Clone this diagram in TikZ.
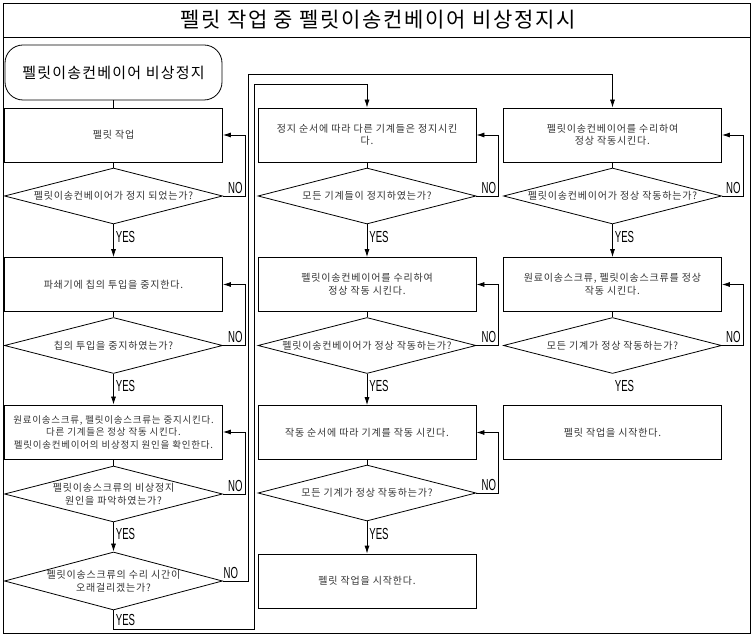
\documentclass[tikz,border=0pt]{standalone}
\usepackage{fontspec}
\usepackage{graphicx}
\setmainfont{Noto Sans CJK KR}[LetterSpace=8]
\newfontfamily\ynfont{Liberation Sans}
\usetikzlibrary{shapes.geometric,arrows.meta,positioning,calc}

\newcommand{\yn}[1]{\scalebox{0.6}[1]{#1}}

\tikzset{
  procbox/.style={draw, rectangle, minimum width=218pt, minimum height=54pt, inner sep=0pt,
    align=center, font=\fontsize{10}{12.5}\selectfont, text=black!80},
  decision/.style={draw, diamond, minimum width=218pt, minimum height=56pt, inner sep=0pt},
  qtext/.style={align=center, inner sep=0pt, font=\fontsize{10}{13}\selectfont, text=black!80},
  flow/.style={-{Latex[length=8pt,width=5pt]}},
  ynlbl/.style={inner sep=2pt, font=\ynfont\fontsize{16}{16}\selectfont},
}

\begin{document}
\begin{tikzpicture}[x=1pt, y=-1pt, line width=0.8pt]
  \useasboundingbox (0,0) rectangle (753,636);
  % Frame and title
  \draw (3,3) rectangle (750,633);
  \draw (3,37) -- (750,37);
  \node[font=\fontsize{21}{21}\selectfont] (title) at (378,20) {펠릿 작업 중 펠릿이송컨베이어 비상정지시};

  % Left column
  \node[draw, rounded corners=18pt, minimum width=217pt, minimum height=55pt,
    font=\fontsize{15}{15}\selectfont] (start) at (113.5,72.5) {펠릿이송컨베이어 비상정지};
  \node[procbox] (b1) at (113.5,135) {펠릿 작업};
  \node[decision] (d1) at (113.5,196) {};
  \node[qtext] (q1) at (d1) {펠릿이송컨베이어가 정지 되었는가?};
  \node[procbox] (b2) at (113.5,284.5) {파쇄기에 칩의 투입을 중지한다.};
  \node[decision] (d2) at (113.5,345.5) {};
  \node[qtext] (q2) at (d2) {칩의 투입을 중지하였는가?};
  \node[procbox, font=\fontsize{9.5}{12.5}\selectfont] (b3) at (113.5,432)
    {원료이송스크류, 펠릿이송스크류는 중지시킨다.\\다른 기계들은 정상 작동 시킨다.\\펠릿이송컨베이어의 비상정지 원인을 확인한다.};
  \node[decision] (d3) at (113.5,494) {};
  \node[qtext] (q3) at (d3) {펠릿이송스크류의 비상정지\\원인을 파악하였는가?};
  \node[decision, minimum height=58pt] (d4) at (113.5,581) {};
  \node[qtext] (q4) at (d4) {펠릿이송스크류의 수리 시간이\\오래걸리겠는가?};

  % Middle column
  \node[procbox] (m1) at (367,135) {정지 순서에 따라 다른 기계들은 정지시킨\\다.};
  \node[decision] (dm1) at (367,196) {};
  \node[qtext] (qm1) at (dm1) {모든 기계들이 정지하였는가?};
  \node[procbox] (m2) at (367,284.5) {펠릿이송컨베이어를 수리하여\\정상 작동 시킨다.};
  \node[decision] (dm2) at (367,345.5) {};
  \node[qtext] (qm2) at (dm2) {펠릿이송컨베이어가 정상 작동하는가?};
  \node[procbox] (m3) at (367,432.5) {작동 순서에 따라 기계를 작동 시킨다.};
  \node[decision] (dm3) at (367,493) {};
  \node[qtext] (qm3) at (dm3) {모든 기계가 정상 작동하는가?};
  \node[procbox] (m4) at (367,581) {펠릿 작업을 시작한다.};

  % Right column
  \node[procbox] (r1) at (612.5,135) {펠릿이송컨베이어를 수리하여\\정상 작동시킨다.};
  \node[decision] (dr1) at (612.5,196) {};
  \node[qtext] (qr1) at (dr1) {펠릿이송컨베이어가 정상 작동하는가?};
  \node[procbox] (r2) at (612.5,284.5) {원료이송스크류, 펠릿이송스크류를 정상\\작동 시킨다.};
  \node[decision] (dr2) at (612.5,345.5) {};
  \node[qtext] (qr2) at (dr2) {모든 기계가 정상 작동하는가?};
  \node[procbox] (r3) at (612.5,432.5) {펠릿 작업을 시작한다.};

  % Loop corners
  \coordinate (lp1) at ($(b1.east)+(22,0)$);
  \coordinate (lp2) at ($(b2.east)+(22,0)$);
  \coordinate (lp3) at ($(b3.east)+(22,0)$);
  \coordinate (lm1) at ($(m1.east)+(22,0)$);
  \coordinate (lm2) at ($(m2.east)+(22,0)$);
  \coordinate (lm3) at ($(m3.east)+(22,0)$);
  \coordinate (lr1) at ($(r1.east)+(21,0)$);
  \coordinate (lr2) at ($(r2.east)+(21,0)$);
  \coordinate (nb) at (248,581);
  \coordinate (nt) at (248,74);
  \coordinate (yb) at (254,629);
  \coordinate (yt) at (254,84);

  % Left connectors
  \draw (start) -- (b1);
  \draw (b1) -- (d1);
  \draw[flow] (d1) -- node[ynlbl, right, pos=0.4] (y1) {\yn{YES}} (b2);
  \draw[flow] (d1.east) -| node[ynlbl, pos=0.5, anchor=south east] (n1) {\yn{NO}} (lp1) -- (b1.east);
  \draw (b2) -- (d2);
  \draw[flow] (d2) -- node[ynlbl, right, pos=0.4] (y2) {\yn{YES}} (b3);
  \draw[flow] (d2.east) -| node[ynlbl, pos=0.5, anchor=south east] (n2) {\yn{NO}} (lp2) -- (b2.east);
  \draw (b3) -- (d3);
  \draw[flow] (d3) -- node[ynlbl, right, pos=0.4] (y3) {\yn{YES}} (d4);
  \draw[flow] (d3.east) -| node[ynlbl, pos=0.5, anchor=south east] (n3) {\yn{NO}} (lp3) -- (b3.east);
  \draw[flow] (d4.south) |- node[ynlbl, right, pos=0.25] (y4) {\yn{YES}} (yb) -- (yt) -| (m1.north);
  \draw[flow] (d4.east) -- node[ynlbl, pos=0.7, anchor=south east] (n4) {\yn{NO}} (nb) -- (nt) -| (r1.north);

  % Middle connectors
  \draw (m1) -- (dm1);
  \draw[flow] (dm1) -- node[ynlbl, right, pos=0.4] (ym1) {\yn{YES}} (m2);
  \draw[flow] (dm1.east) -| node[ynlbl, pos=0.5, anchor=south east] (nm1) {\yn{NO}} (lm1) -- (m1.east);
  \draw (m2) -- (dm2);
  \draw[flow] (dm2) -- node[ynlbl, right, pos=0.4] (ym2) {\yn{YES}} (m3);
  \draw[flow] (dm2.east) -| node[ynlbl, pos=0.5, anchor=south east] (nm2) {\yn{NO}} (lm2) -- (m2.east);
  \draw (m3) -- (dm3);
  \draw[flow] (dm3) -- node[ynlbl, right, pos=0.4] (ym3) {\yn{YES}} (m4);
  \draw[flow] (dm3.east) -| node[ynlbl, pos=0.5, anchor=south east] (nm3) {\yn{NO}} (lm3) -- (m3.east);

  % Right connectors
  \draw (r1) -- (dr1);
  \draw[flow] (dr1) -- node[ynlbl, right, pos=0.4] (yr1) {\yn{YES}} (r2);
  \draw[flow] (dr1.east) -| node[ynlbl, pos=0.5, anchor=south east] (nr1) {\yn{NO}} (lr1) -- (r1.east);
  \draw (r2) -- (dr2);
  \draw[flow] (dr2.east) -| node[ynlbl, pos=0.5, anchor=south east] (nr2) {\yn{NO}} (lr2) -- (r2.east);
  \node[ynlbl, anchor=west] (yr2) at ($(dr2.south)+(0,12)$) {\yn{YES}};
\end{tikzpicture}
\end{document}
